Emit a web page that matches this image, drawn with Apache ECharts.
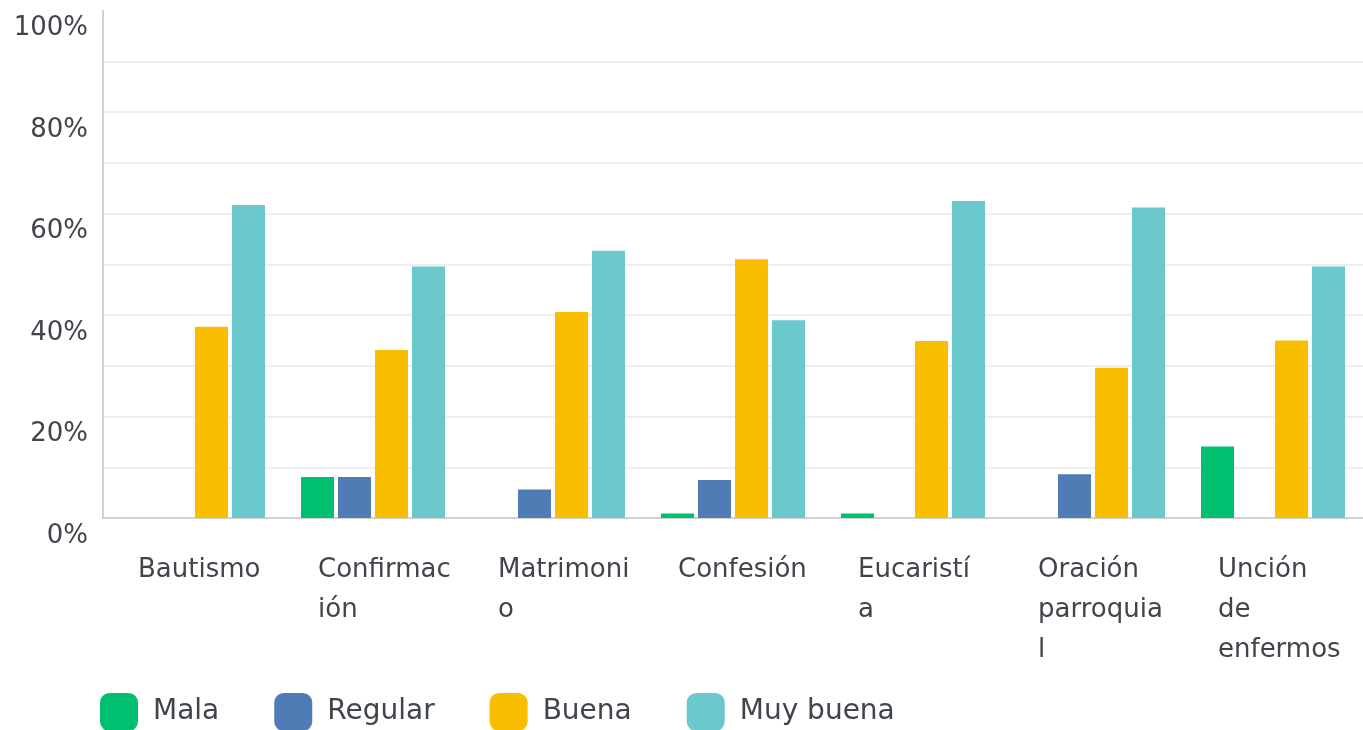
<!DOCTYPE html>
<html style="height: 100%">
<head>
<meta charset="utf-8">
</head>
<body style="height: 100%; margin: 0">
<div id="container" style="height: 100%"></div>
<script src="https://cdn.jsdelivr.net/npm/echarts@6/dist/echarts.min.js"></script>
<script>
var categories = ['Bautismo', 'Confirmación', 'Matrimonio', 'Confesión', 'Eucaristía', 'Oración parroquial', 'Unción de enfermos'];
// labels wrapped the way the picture wraps them
var categoryLabels = ['Bautismo', 'Confirmac\nión', 'Matrimoni\no', 'Confesión', 'Eucaristí\na', 'Oración\nparroquia\nl', 'Unción\nde\nenfermos'];
var mala = [0, 8.1, 0, 0.9, 0.9, 0, 14.1];
var regular = [0, 8.1, 5.6, 7.5, 0, 8.6, 0];
var buena = [37.7, 33.1, 40.6, 51.0, 34.9, 29.6, 35.0];
var muyBuena = [61.7, 49.6, 52.7, 39.0, 62.5, 61.2, 49.6];

var textColor = '#3f454b';
var font = 'DejaVu Sans';

var myChart = echarts.init(document.getElementById('container'));

function bar(name, data, color) {
    return {
        name: name,
        type: 'bar',
        data: data,
        barGap: '12%',
        barCategoryGap: '20%',
        itemStyle: { color: color }
    };
}

var option = {
    animation: false,
    grid: { left: 103, right: 0, top: 10.7, bottom: 212 },
    legend: {
        left: 100,
        top: 693,
        padding: 0,
        itemWidth: 38,
        itemHeight: 38,
        itemGap: 55,
        icon: 'roundRect',
        textStyle: { fontFamily: font, fontSize: 28, color: textColor, padding: [0, 0, 0, 10] },
        data: ['Mala', 'Regular', 'Buena', 'Muy buena']
    },
    xAxis: {
        type: 'category',
        data: categories,
        axisTick: { show: false },
        axisLine: { lineStyle: { color: '#d2d2d2', width: 2 } },
        axisLabel: {
            interval: 0,
            margin: 32,
            align: 'left',
            verticalAlign: 'top',
            padding: [0, 0, 0, -55],
            lineHeight: 40,
            fontFamily: font,
            fontSize: 26,
            color: textColor,
            formatter: function (v, i) { return categoryLabels[i]; }
        }
    },
    yAxis: {
        type: 'value',
        min: 0,
        max: 100,
        interval: 10,
        axisLine: { show: true, lineStyle: { color: '#d2d2d2', width: 2 } },
        axisTick: { show: false },
        splitLine: { showMaxLine: false, lineStyle: { color: '#efefef', width: 2 } },
        axisLabel: {
            margin: 15,
            verticalAlign: 'top',
            padding: [5, 0, 0, 0],
            fontFamily: font,
            fontSize: 26,
            color: textColor,
            formatter: function (v) { return v % 20 === 0 ? v + '%' : ''; }
        }
    },
    series: [
        bar('Mala', mala, '#00bf6f'),
        bar('Regular', regular, '#507cb6'),
        bar('Buena', buena, '#f9be00'),
        bar('Muy buena', muyBuena, '#6bc8cd')
    ]
};

myChart.setOption(option);
</script>
</body>
</html>
